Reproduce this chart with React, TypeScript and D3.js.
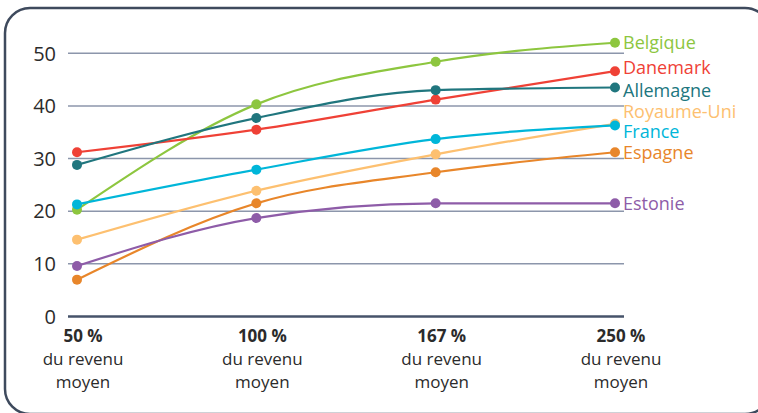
import React from "react";
import * as d3 from "d3";

const categories = ["50 %", "100 %", "167 %", "250 %"];
const subLabel1 = "du revenu";
const subLabel2 = "moyen";
const yTicks = [0, 10, 20, 30, 40, 50];

const seriesNames = ["Belgique", "Danemark", "Allemagne", "Royaume-Uni", "France", "Espagne", "Estonie"];
const belgique = [20.3, 40.3, 48.4, 52.0];
const danemark = [31.2, 35.5, 41.2, 46.6];
const allemagne = [28.8, 37.7, 43.0, 43.5];
const royaumeUni = [14.6, 23.9, 30.8, 36.6];
const france = [21.3, 27.9, 33.7, 36.3];
const espagne = [7.0, 21.5, 27.4, 31.2];
const estonie = [9.6, 18.7, 21.5, 21.5];
const seriesValues = [belgique, danemark, allemagne, royaumeUni, france, espagne, estonie];
const seriesColors = ["#8dc63f", "#ef4136", "#20767e", "#fdc070", "#00b6d9", "#e8862a", "#8e5ca8"];
// label vertical positions (data units) to avoid overlap
const labelValues = [52.0, 47.3, 43.0, 39.0, 35.2, 31.2, 21.5];

export default function App() {
  const W = 758, H = 413;
  const x = d3.scalePoint<string>().domain(categories).range([77, 615]);
  const y = d3.scaleLinear().domain([0, 50]).range([316.5, 53.3]);
  const line = d3
    .line<number>()
    .x((_, i) => x(categories[i]) as number)
    .y((d) => y(d))
    .curve(d3.curveMonotoneX);
  const font = "'Open Sans', sans-serif";

  return (
    <svg width={W} height={H} style={{ position: "absolute", left: 0, top: 0 }} fontFamily={font}>
      <rect x={5} y={8} width={765} height={406} rx={25} ry={25} fill="white" stroke="#3e4a5d" strokeWidth={2.5} />
      {yTicks.map((t) => (
        <g key={t}>
          {t !== 0 && (
            <line x1={68} x2={624} y1={y(t)} y2={y(t)} stroke="#8c96ab" strokeWidth={1.5} />
          )}
          <text x={56} y={y(t)} dy="0.36em" textAnchor="end" fontSize={20} fill="#2b2b2b">
            {t}
          </text>
        </g>
      ))}
      <line x1={68} x2={624} y1={y(0)} y2={y(0)} stroke="#46536a" strokeWidth={2.5} />
      {categories.map((c) => (
        <g key={c} transform={`translate(${(x(c) as number) + 6},0)`}>
          <text y={336} dy="0.36em" textAnchor="middle" fontSize={17} fontWeight="bold" fill="#2b2b2b">
            {c}
          </text>
          <text y={359} dy="0.36em" textAnchor="middle" fontSize={17} fill="#2b2b2b">
            {subLabel1}
          </text>
          <text y={382} dy="0.36em" textAnchor="middle" fontSize={17} fill="#2b2b2b">
            {subLabel2}
          </text>
        </g>
      ))}
      {seriesValues.map((vals, si) => (
        <g key={seriesNames[si]}>
          <path d={line(vals) || ""} fill="none" stroke={seriesColors[si]} strokeWidth={2.2} />
          {vals.map((v, i) => (
            <circle key={i} cx={x(categories[i])} cy={y(v)} r={5} fill={seriesColors[si]} />
          ))}
          <text
            x={623}
            y={y(labelValues[si])}
            dy="0.36em"
            fontSize={18}
            fill={seriesColors[si]}
          >
            {seriesNames[si]}
          </text>
        </g>
      ))}
    </svg>
  );
}
